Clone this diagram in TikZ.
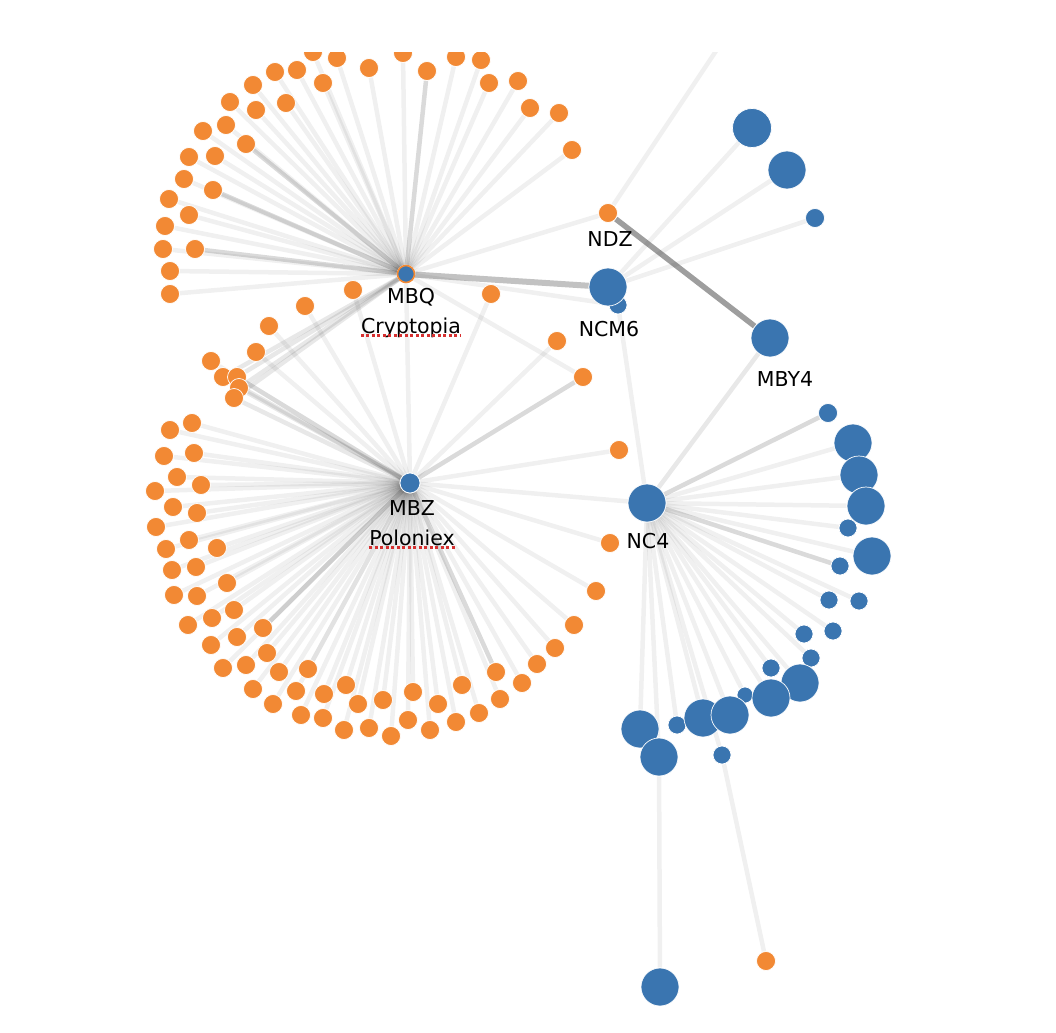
\documentclass[tikz,border=0pt]{standalone}
\usepackage{fontspec}
\setmainfont{DejaVu Sans}
\usetikzlibrary{backgrounds}
\definecolor{coinorange}{RGB}{242,137,52}
\definecolor{coinblue}{RGB}{58,117,176}
\definecolor{spellred}{RGB}{214,48,48}
\tikzset{
  link/.style={line width=4.5pt, draw=black, draw opacity=0.06},
  midlink/.style={line width=4.5pt, draw=black, draw opacity=0.09},
  strong/.style={line width=6pt, draw=black, draw opacity=0.24},
  darklink/.style={line width=5.5pt, draw=black, draw opacity=0.38},
  odot/.style={circle, fill=coinorange, draw=white, line width=0.7pt, inner sep=0pt, minimum size=19pt},
  bdot/.style={circle, fill=coinblue, draw=white, line width=0.7pt, inner sep=0pt, minimum size=#1},
  hub/.style={circle, fill=coinblue, draw=coinorange, line width=1.6pt, inner sep=0pt, minimum size=17pt},
  lab/.style={font=\fontsize{20.5}{24}\selectfont, inner sep=0pt, anchor=base},
  squiggle/.style={draw=spellred, line width=3pt, dash pattern=on 3pt off 2.5pt}
}

\begin{document}
\begin{tikzpicture}[x=1pt,y=-1pt]
\useasboundingbox (0,0) rectangle (1056,1032);

% Cryptopia side
\foreach \x/\y [count=\i] in {313/52,337/58,403/53,456/57,481/60,369/68,427/71,297/70,275/72,323/83,489/83,518/81,253/85,230/102,256/110,286/103,530/108,559/113,203/131,226/125,246/144,572/150,189/157,215/156,184/179,213/190,169/199,189/215,165/226,163/249,195/249,170/271,170/294}
  \node[odot] (q\i) at (\x,\y) {};

% Poloniex side
\foreach \x/\y [count=\i] in {192/423,170/430,194/453,164/456,177/477,201/485,155/491,173/507,197/513,156/527,189/540,217/548,166/549,172/570,196/567,227/583,174/595,197/596,234/610,188/625,212/618,263/628,211/645,237/637,267/653,223/668,246/665,279/672,308/669,253/689,296/691,324/694,346/685,273/704,301/715,323/718,358/704,383/700,413/692,344/730,369/728,391/736,408/720,430/730,438/704,456/722,462/685,479/713,496/672,500/699,522/683,537/664,555/648,574/625,596/591,610/543,619/450,557/341,583/377,353/290,305/306,269/326,256/352,211/361,491/294}
  \node[odot] (z\i) at (\x,\y) {};
\foreach \x/\y [count=\i] in {223/377,237/377,239/388,234/398}
  \node[odot] (c\i) at (\x,\y) {};

\node[hub] (MBQ) at (406,274) {};
\node[bdot=20pt] (MBZ) at (410,483) {};

% NC4 side
\foreach \x/\y/\s [count=\i] in {828/413/19pt,848/528/18pt,840/566/18pt,829/600/18pt,859/601/18pt,804/634/18pt,833/631/18pt,811/658/18pt,771/668/18pt,745/695/16pt,677/725/18pt,722/755/18pt,853/443/38pt,859/475/38pt,866/506/38pt,872/556/38pt,800/683/38pt,771/698/38pt,703/718/38pt,730/715/38pt,640/729/38pt,659/757/38pt}
  \node[bdot=\s] (b\i) at (\x,\y) {};
\node[bdot=38pt] (NC4) at (647,503) {};
\node[bdot=38pt] (end1) at (660,987) {};
\node[odot] (end2) at (766,961) {};

% NCM6 / NDZ / MBY4
\node[bdot=18pt] (ncm) at (618,305) {};
\node[bdot=38pt] (NCM6) at (608,287) {};
\node[odot] (NDZ) at (608,213) {};
\node[bdot=38pt] (MBY4) at (770,338) {};
\foreach \x/\y/\s [count=\i] in {752/128/39pt,787/170/38pt,815/218/19pt}
  \node[bdot=\s] (t\i) at (\x,\y) {};
\coordinate (up) at (750,0);

\begin{pgfonlayer}{background}
\foreach \i in {1,...,33} \draw[link] (MBQ) -- (q\i);
\foreach \i in {7,21,26,31} \draw[midlink] (MBQ) -- (q\i);
\foreach \i in {1,...,65} \draw[link] (MBZ) -- (z\i);
\foreach \i in {22,49,59} \draw[midlink] (MBZ) -- (z\i);
\foreach \i in {1,...,4} {
  \draw[midlink] (MBQ) -- (c\i);
  \draw[midlink] (MBZ) -- (c\i);
}
\draw[link] (MBQ) -- (z59);
\draw[link] (MBQ) -- (MBZ);
\draw[link] (MBQ) -- (NDZ);
\draw[strong] (MBQ) -- (NCM6);
\draw[link] (MBQ) -- (ncm);
\draw[link] (MBZ) -- (NC4);
\draw[darklink] (NDZ) -- (MBY4);
\draw[link] (NDZ) -- (up);
\foreach \i in {1,2,3} \draw[link] (NCM6) -- (t\i);
\draw[link] (ncm) -- (NC4);
\draw[midlink] (MBY4) -- (NC4);
\foreach \i in {1,...,22} \draw[link] (NC4) -- (b\i);
\foreach \i in {1,3} \draw[midlink] (NC4) -- (b\i);
\draw[link] (b22) -- (end1);
\draw[link] (b12) -- (end2);
\end{pgfonlayer}

% labels
\node[lab] (lMBQ) at (411,303) {MBQ};
\node[lab] (cry) at (411,333) {Cryptopia};
\node[lab] (lMBZ) at (412,515) {MBZ};
\node[lab] (pol) at (412,545) {Poloniex};
\node[lab] (lNDZ) at (610,246) {NDZ};
\node[lab] (lNCM6) at (609,336) {NCM6};
\node[lab] (lMBY4) at (785,386) {MBY4};
\node[lab] (lNC4) at (648,548) {NC4};
\draw[squiggle] ([yshift=-2.5pt]cry.base west) -- ([yshift=-2.5pt]cry.base east);
\draw[squiggle] ([yshift=-2pt]pol.base west) -- ([yshift=-2pt]pol.base east);

\fill[white] (0,0) rectangle (1056,52);
\end{tikzpicture}
\end{document}
